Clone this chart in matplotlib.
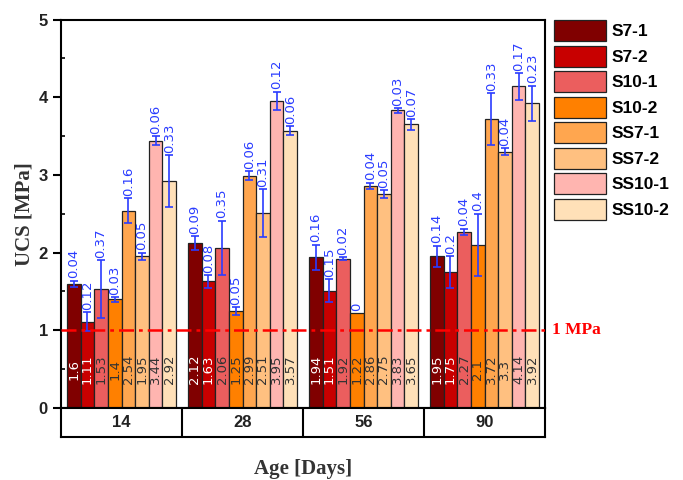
import numpy as np
import matplotlib.pyplot as plt
from matplotlib.patches import Patch

# curing ages (days)
ages = ["14", "28", "56", "90"]
mixes = ["S7-1", "S7-2", "S10-1", "S10-2", "SS7-1", "SS7-2", "SS10-1", "SS10-2"]
colors = ["#800000", "#c80000", "#eb5e5e", "#ff8000",
          "#ffa64f", "#ffc080", "#ffb5b0", "#ffe0b8"]

# mean UCS per mix, one list per mix over the four ages
ucs_s7_1 = [1.6, 2.12, 1.94, 1.95]
ucs_s7_2 = [1.11, 1.63, 1.51, 1.75]
ucs_s10_1 = [1.53, 2.06, 1.92, 2.27]
ucs_s10_2 = [1.4, 1.25, 1.22, 2.1]
ucs_ss7_1 = [2.54, 2.99, 2.86, 3.72]
ucs_ss7_2 = [1.95, 2.51, 2.75, 3.3]
ucs_ss10_1 = [3.44, 3.95, 3.83, 4.14]
ucs_ss10_2 = [2.92, 3.57, 3.65, 3.92]

# standard deviations
sd_s7_1 = [0.04, 0.09, 0.16, 0.14]
sd_s7_2 = [0.12, 0.08, 0.15, 0.2]
sd_s10_1 = [0.37, 0.35, 0.02, 0.04]
sd_s10_2 = [0.03, 0.05, 0, 0.4]
sd_ss7_1 = [0.16, 0.06, 0.04, 0.33]
sd_ss7_2 = [0.05, 0.31, 0.05, 0.04]
sd_ss10_1 = [0.06, 0.12, 0.03, 0.17]
sd_ss10_2 = [0.33, 0.06, 0.07, 0.23]

means = [ucs_s7_1, ucs_s7_2, ucs_s10_1, ucs_s10_2,
         ucs_ss7_1, ucs_ss7_2, ucs_ss10_1, ucs_ss10_2]
sds = [sd_s7_1, sd_s7_2, sd_s10_1, sd_s10_2,
       sd_ss7_1, sd_ss7_2, sd_ss10_1, sd_ss10_2]

threshold = 1.0

fig = plt.figure(figsize=(6.83, 4.8), dpi=100)
ax = fig.add_axes([61/683, 1-408/480, 484/683, 388.5/480])
tab = fig.add_axes([61/683, 1-437/480, 484/683, 29/480])

x = np.arange(len(ages))
w = 0.1125
err_blue = "#2a3cff"

for i, (m, s, c) in enumerate(zip(means, sds, colors)):
    pos = x + (i - 3.5) * w
    ax.bar(pos, m, w, color=c, edgecolor="#222222", linewidth=0.9, zorder=2)
    for xp, v, e in zip(pos, m, s):
        if e > 0:
            ax.errorbar(xp, v, yerr=e, fmt="none", ecolor=err_blue,
                        elinewidth=1.2, capsize=3, capthick=1.2, zorder=3)
        ax.text(xp, v + e + 0.03, f"{e:g}", rotation=90, ha="center",
                va="bottom", color=err_blue, fontsize=9.5, zorder=4)
        ax.text(xp, 0.5, f"{v:g}", rotation=90, ha="center", va="center",
                color="white" if i < 2 else "#333333", fontsize=9.5, zorder=4)

# 1 MPa reference line, drawn over the bars
ax.axhline(threshold, color="red", linestyle=(0, (6, 2, 1.5, 2)),
           linewidth=1.8, zorder=5)
ax.text(1.015, threshold, "1 MPa", transform=ax.get_yaxis_transform(),
        color="red", fontsize=12.5, fontweight="bold",
        family="Liberation Serif", va="center", ha="left")

ax.set_xlim(-0.5, 3.5)
ax.set_ylim(0, 5)
ax.set_xticks([])
ax.set_yticks(np.arange(0, 6, 1))
ax.set_yticks(np.arange(0.5, 5, 1), minor=True)
ax.tick_params(axis="y", which="major", direction="out", length=6, width=1.5,
               labelsize=12)
ax.tick_params(axis="y", which="minor", direction="in", length=3, width=1.2)
for lbl in ax.get_yticklabels():
    lbl.set_fontweight("bold")
    lbl.set_family("Liberation Sans")
    lbl.set_color("#222222")
for sp in ax.spines.values():
    sp.set_linewidth(1.5)
ax.set_ylabel("UCS [MPa]", family="Liberation Serif", fontweight="bold",
              fontsize=15, color="#333333", labelpad=3)

# category row under the bars
tab.set_xlim(-0.5, 3.5)
tab.set_ylim(0, 1)
tab.set_xticks([])
tab.set_yticks([])
for sp in tab.spines.values():
    sp.set_linewidth(1.5)
for b in x[:-1] + 0.5:
    tab.axvline(b, color="black", linewidth=1.5)
for xi, a in zip(x, ages):
    tab.text(xi, 0.5, a, ha="center", va="center", fontsize=12,
             fontweight="bold", family="Liberation Sans", color="#222222")
tab.set_xlabel("Age [Days]", family="Liberation Serif", fontweight="bold",
               fontsize=15, color="#333333", labelpad=16)

handles = [Patch(facecolor=c, edgecolor="#222222", linewidth=0.9) for c in colors]
fig.legend(handles, mixes, loc="upper left", bbox_to_anchor=(554/683, 1-20/480),
           frameon=False, borderpad=0, borderaxespad=0, handlelength=3.0,
           handleheight=1.5, labelspacing=0.25, handletextpad=0.3,
           prop={"family": "Liberation Sans", "weight": "bold", "size": 12.5})

fig.savefig("out.png", dpi=100)
